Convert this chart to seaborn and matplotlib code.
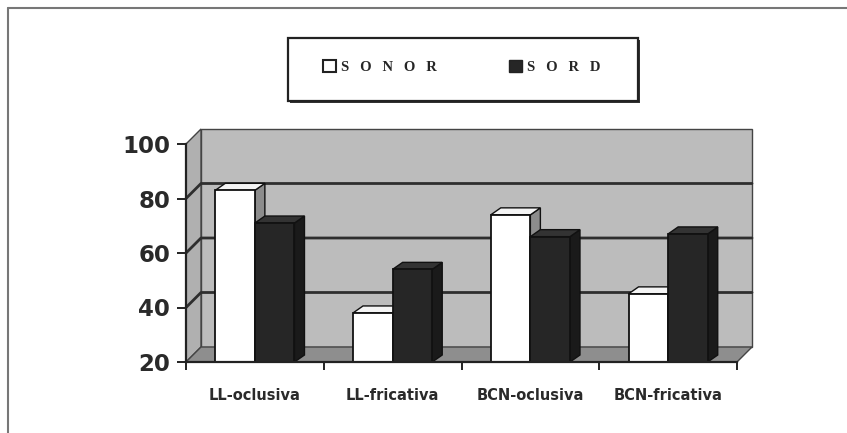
import numpy as np
import pandas as pd
import matplotlib
matplotlib.use("Agg")
import matplotlib.pyplot as plt
from matplotlib.patches import Polygon, Rectangle
from matplotlib.lines import Line2D
import seaborn as sns

# ---- data ----
categories = ["LL-oclusiva", "LL-fricativa", "BCN-oclusiva", "BCN-fricativa"]
series_names = ["SONOR", "SORD"]
sonor_values = [83, 38, 74, 45]
sord_values = [71, 54, 66, 67]
y_ticks = [20, 40, 60, 80, 100]
legend_labels = ["S   O   N   O   R", "S   O   R   D"]

df = pd.DataFrame({
    "cat": categories * 2,
    "val": sonor_values + sord_values,
    "serie": [series_names[0]] * 4 + [series_names[1]] * 4,
})

sns.set_style("white")
plt.rcParams["font.family"] = ["DejaVu Sans"]

W, H = 847, 433
fig = plt.figure(figsize=(W / 100, H / 100), dpi=100)
fig.patch.set_facecolor("white")
ax = fig.add_axes([186 / W, (H - 362) / H, 551 / W, 218 / H])
ax.set_facecolor("none")

white_c = "#ffffff"
dark_c = "#262626"
wall_c = "#bcbcbc"
side_wall_c = "#b0b0b0"
floor_c = "#8e8e8e"
grid_c = "#2e2e2e"

sns.barplot(data=df, x="cat", y="val", hue="serie", hue_order=series_names,
            order=categories, palette=[white_c, dark_c], width=0.575,
            edgecolor="#111111", linewidth=1.3, ax=ax, legend=False,
            saturation=1, zorder=10)

ymin, ymax = y_ticks[0], y_ticks[-1]
xmin, xmax = -0.5, len(categories) - 0.5
ax.set_ylim(ymin, ymax)
ax.set_xlim(xmin, xmax)

# pixel -> data scale
p0 = ax.transData.transform((0, 0))
p1 = ax.transData.transform((1, 1))
sx, sy = p1[0] - p0[0], p1[1] - p0[1]

# wall depth and bar depth (pixels)
wdx, wdy = 15 / sx, 15 / sy
bdx, bdy = 10 / sx, 7 / sy

# back wall
ax.add_patch(Rectangle((xmin + wdx, ymin + wdy), xmax - xmin, ymax - ymin,
                       facecolor=wall_c, edgecolor="#444444", lw=1.0,
                       clip_on=False, zorder=1))
# left side wall
ax.add_patch(Polygon([(xmin, ymin), (xmin + wdx, ymin + wdy),
                      (xmin + wdx, ymax + wdy), (xmin, ymax)],
                     closed=True, facecolor=side_wall_c, edgecolor="#444444",
                     lw=1.0, clip_on=False, zorder=1.5))
# floor
ax.add_patch(Polygon([(xmin, ymin), (xmax, ymin), (xmax + wdx, ymin + wdy),
                      (xmin + wdx, ymin + wdy)],
                     closed=True, facecolor=floor_c, edgecolor="#444444",
                     lw=1.0, clip_on=False, zorder=2))
# gridlines on walls
for v in y_ticks[1:-1]:
    ax.add_line(Line2D([xmin, xmin + wdx, xmax + wdx], [v, v + wdy, v + wdy],
                       color=grid_c, lw=2.0, clip_on=False, zorder=3))

# 3D bar faces
bars = sorted([p for p in ax.patches if p.get_zorder() == 10],
              key=lambda p: p.get_x())
for p in bars:
    x0 = p.get_x()
    w = p.get_width()
    top = p.get_y() + p.get_height()
    bot = max(p.get_y(), ymin)
    fc = p.get_facecolor()
    is_dark = fc[0] < 0.5
    side_fc = "#1a1a1a" if is_dark else "#8c8c8c"
    top_fc = "#333333" if is_dark else "#f4f4f4"
    ax.add_patch(Polygon([(x0 + w, bot), (x0 + w + bdx, bot + bdy),
                          (x0 + w + bdx, top + bdy), (x0 + w, top)],
                         closed=True, facecolor=side_fc, edgecolor="#111111",
                         lw=1.0, zorder=5, clip_on=False))
    ax.add_patch(Polygon([(x0, top), (x0 + bdx, top + bdy),
                          (x0 + w + bdx, top + bdy), (x0 + w, top)],
                         closed=True, facecolor=top_fc, edgecolor="#111111",
                         lw=1.0, zorder=5, clip_on=False))

# spines
for s in ["top", "right"]:
    ax.spines[s].set_visible(False)
for s in ["left", "bottom"]:
    ax.spines[s].set_color("#222222")
    ax.spines[s].set_linewidth(1.6)
    ax.spines[s].set_zorder(12)

ax.set_yticks(y_ticks)
ax.set_yticklabels([str(t) for t in y_ticks], fontsize=16.5, fontweight="bold",
                   color="#2a2a2a")
ax.tick_params(axis="y", direction="out", length=6.5, width=1.4, pad=5,
               color="#222222", left=True)
ax.set_xticks(range(len(categories)))
ax.set_xticklabels(categories, fontsize=10.5, fontweight="bold", color="#2a2a2a")
ax.set_xticks(np.arange(xmin, xmax + 0.01, 1.0), minor=True)
ax.tick_params(axis="x", which="major", length=0, pad=19)
ax.tick_params(axis="x", which="minor", direction="out", length=6, width=1.4,
               color="#222222", bottom=True)
ax.set_xlabel("")
ax.set_ylabel("")

# legend box (with a slight shadow)
box_x0, box_y0, box_w, box_h = 288, 101, 350, 63
fig.patches.append(Rectangle(((box_x0 + 2) / W, (H - box_y0 - 2) / H), box_w / W, box_h / H,
                             transform=fig.transFigure, facecolor="#333333",
                             edgecolor="none", zorder=0))
fig.patches.append(Rectangle((box_x0 / W, (H - box_y0) / H), box_w / W, box_h / H,
                             transform=fig.transFigure, facecolor="white",
                             edgecolor="#222222", lw=1.6, zorder=0.5))
handles = [Rectangle((0, 0), 1, 1, facecolor=white_c, edgecolor="#222222", lw=1.5),
           Rectangle((0, 0), 1, 1, facecolor=dark_c, edgecolor="#222222", lw=1.0)]
fig.legend(handles, legend_labels, loc="center left", ncol=2,
           bbox_to_anchor=(310 / W, (H - 67) / H), frameon=False,
           handlelength=0.9, handleheight=0.9, handletextpad=0.3,
           columnspacing=5.0,
           prop={"family": "Liberation Serif", "weight": "bold", "size": 10.5})

# outer frame (top and left)
fig.add_artist(Line2D([8 / W, 1.0], [(H - 8) / H, (H - 8) / H],
                      transform=fig.transFigure, color="#777777", lw=1.5))
fig.add_artist(Line2D([8 / W, 8 / W], [0, (H - 8) / H],
                      transform=fig.transFigure, color="#777777", lw=1.5))

fig.savefig("out.png", dpi=100)
